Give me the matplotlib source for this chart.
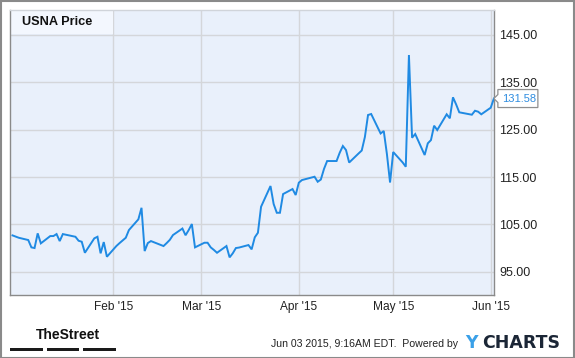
import matplotlib
matplotlib.use("Agg")
import matplotlib.pyplot as plt
import matplotlib.dates as mdates
import matplotlib.transforms as mtransforms
from matplotlib.patches import Rectangle, Polygon
import pandas as pd
import numpy as np

plt.rcParams['font.family'] = ['Liberation Sans', 'DejaVu Sans']

# ---- data ----
title = "USNA Price"
holidays = ["2015-01-01", "2015-01-19", "2015-02-16", "2015-04-03", "2015-05-25"]
dates = pd.bdate_range("2014-12-31", "2015-06-02", freq="C", holidays=holidays)
prices = [
    102.67,
    # Jan
    102.17, 101.69, 100.14, 100.00, 103.10, 100.99, 102.53, 102.53, 102.95, 101.47,
    102.95, 102.38, 101.54, 101.33, 99.00, 102.05, 102.38, 98.88, 101.26, 98.16,
    # Feb
    100.42, 101.03, 101.60, 102.17, 103.80, 106.06, 108.50, 99.36, 101.05, 101.47,
    100.42, 101.05, 101.73, 102.74, 104.12, 102.70, 103.80, 105.07, 100.14,
    # Mar
    101.12, 101.12, 100.14, 99.60, 99.00, 100.42, 98.03, 98.88, 100.00, 100.10,
    100.63, 99.72, 102.26, 103.23, 108.72, 113.10, 109.30, 107.45, 107.45, 111.40,
    112.46, 111.20,
    # Apr
    113.80, 114.36, 115.06, 114.00, 114.47, 116.70, 118.38, 118.38, 120.13, 121.55,
    120.70, 118.06, 119.98, 120.60, 123.45, 128.10, 128.31, 124.20, 124.72, 119.86,
    113.84,
    # May
    120.28, 118.08, 117.17, 140.77, 123.30, 124.08, 119.65, 122.12, 122.80, 125.84,
    124.93, 128.25, 127.40, 131.84, 130.34, 128.67, 128.16, 129.00, 128.80, 128.25,
    # Jun
    129.64, 131.58,
]
y_ticks = [95, 105, 115, 125, 135, 145]
x_ticks = ["2015-02-01", "2015-03-01", "2015-04-01", "2015-05-01", "2015-06-01"]
footer = "Jun 03 2015, 9:16AM EDT.  Powered by"

# ---- figure ----
W, H = 575, 358
fig = plt.figure(figsize=(W / 100, H / 100), dpi=100)
fig.patch.set_facecolor("white")

ax = fig.add_axes([10 / W, 1 - 295 / H, 484 / W, 285 / H])
ax.set_facecolor("#e9f0fb")

line_color = "#1f8ae3"
ax.plot(dates, prices, color=line_color, lw=1.4, solid_joinstyle="miter", zorder=3)

x0 = mdates.date2num(pd.Timestamp("2014-12-30")) + 0.2
x1 = mdates.date2num(pd.Timestamp("2015-06-02")) + 0.04
ax.set_xlim(x0, x1)
ax.set_ylim(90.08, 150.28)

ax.set_yticks(y_ticks)
ax.yaxis.tick_right()
ax.set_yticklabels([f"{v:.2f}" for v in y_ticks])
ax.set_xticks([mdates.date2num(pd.Timestamp(d)) for d in x_ticks])
ax.xaxis.set_major_formatter(mdates.DateFormatter("%b '%y"))
ax.tick_params(axis="y", length=0, pad=4, labelsize=9, labelcolor="#222222")
ax.tick_params(axis="x", length=0, pad=4, labelsize=8.6, labelcolor="#222222")
ax.grid(True, color="#d4d6da", lw=1.0, zorder=0)
ax.set_axisbelow(True)

for side in ["left", "right", "bottom"]:
    ax.spines[side].set_color("#8a8a8a")
    ax.spines[side].set_linewidth(1.0)
ax.spines["top"].set_color("#d0d4da")
ax.spines["top"].set_linewidth(1.0)

# title box
ax.add_patch(Rectangle((0, 1 - 24 / 285), 103 / 484, 24 / 285, transform=ax.transAxes,
                       facecolor="#f3f7fe", edgecolor="none", zorder=1))
ax.text(12 / 484, 1 - 12 / 285, title, transform=ax.transAxes, fontsize=9.2,
        fontweight="bold", va="center", ha="left", color="#111111", zorder=4)

# last value label with pointer
last_x = mdates.date2num(dates[-1])
last_y = prices[-1]
trans = fig.dpi_scale_trans + mtransforms.ScaledTranslation(last_x, last_y, ax.transData)
px = 1 / 100
bx0, bx1, bh = 4 * px, 44 * px, 9 * px
tri = Polygon([(0, 0), (bx0, 4 * px), (bx0, bh), (bx1, bh), (bx1, -bh), (bx0, -bh), (bx0, -4 * px)],
              closed=True, transform=trans, facecolor="white", edgecolor="#8f8f8f",
              lw=0.9, clip_on=False, zorder=5)
ax.add_patch(tri)
ax.annotate(f"{last_y:.2f}", xy=(last_x, last_y), xytext=(8, 0), textcoords="offset pixels",
            ha="left", va="center", fontsize=8, color="#2f8de0", annotation_clip=False,
            zorder=7)

# footer
fig.text(36 / W, 1 - 335 / H, "TheStreet", fontsize=10, fontweight="bold",
         ha="left", va="center", color="#111111")
for a, b in [(10, 43), (47, 79), (83, 116)]:
    fig.add_artist(Rectangle((a / W, 1 - 351 / H), (b - a) / W, 3 / H, transform=fig.transFigure,
                             facecolor="#1a1a1a", edgecolor="none"))
fig.text(458 / W, 1 - 344 / H, footer, fontsize=7.6, ha="right", va="center", color="#222222")
fig.text(465 / W, 1 - 343 / H, "Y", fontsize=12.5, fontweight="bold", ha="left", va="center",
         color="#3aa0e8", family="DejaVu Sans")
fig.text(482 / W, 1 - 343 / H, "CHARTS", fontsize=12.5, fontweight="bold", ha="left",
         va="center", color="#1b2636", family="DejaVu Sans")

# outer border
fig.add_artist(Rectangle((0.5 / W, 0.5 / H), 1 - 1.5 / W, 1 - 1.5 / H, transform=fig.transFigure,
                         facecolor="none", edgecolor="#8a8a8a", lw=1.5))

fig.savefig("out.png", dpi=100, facecolor="white")
